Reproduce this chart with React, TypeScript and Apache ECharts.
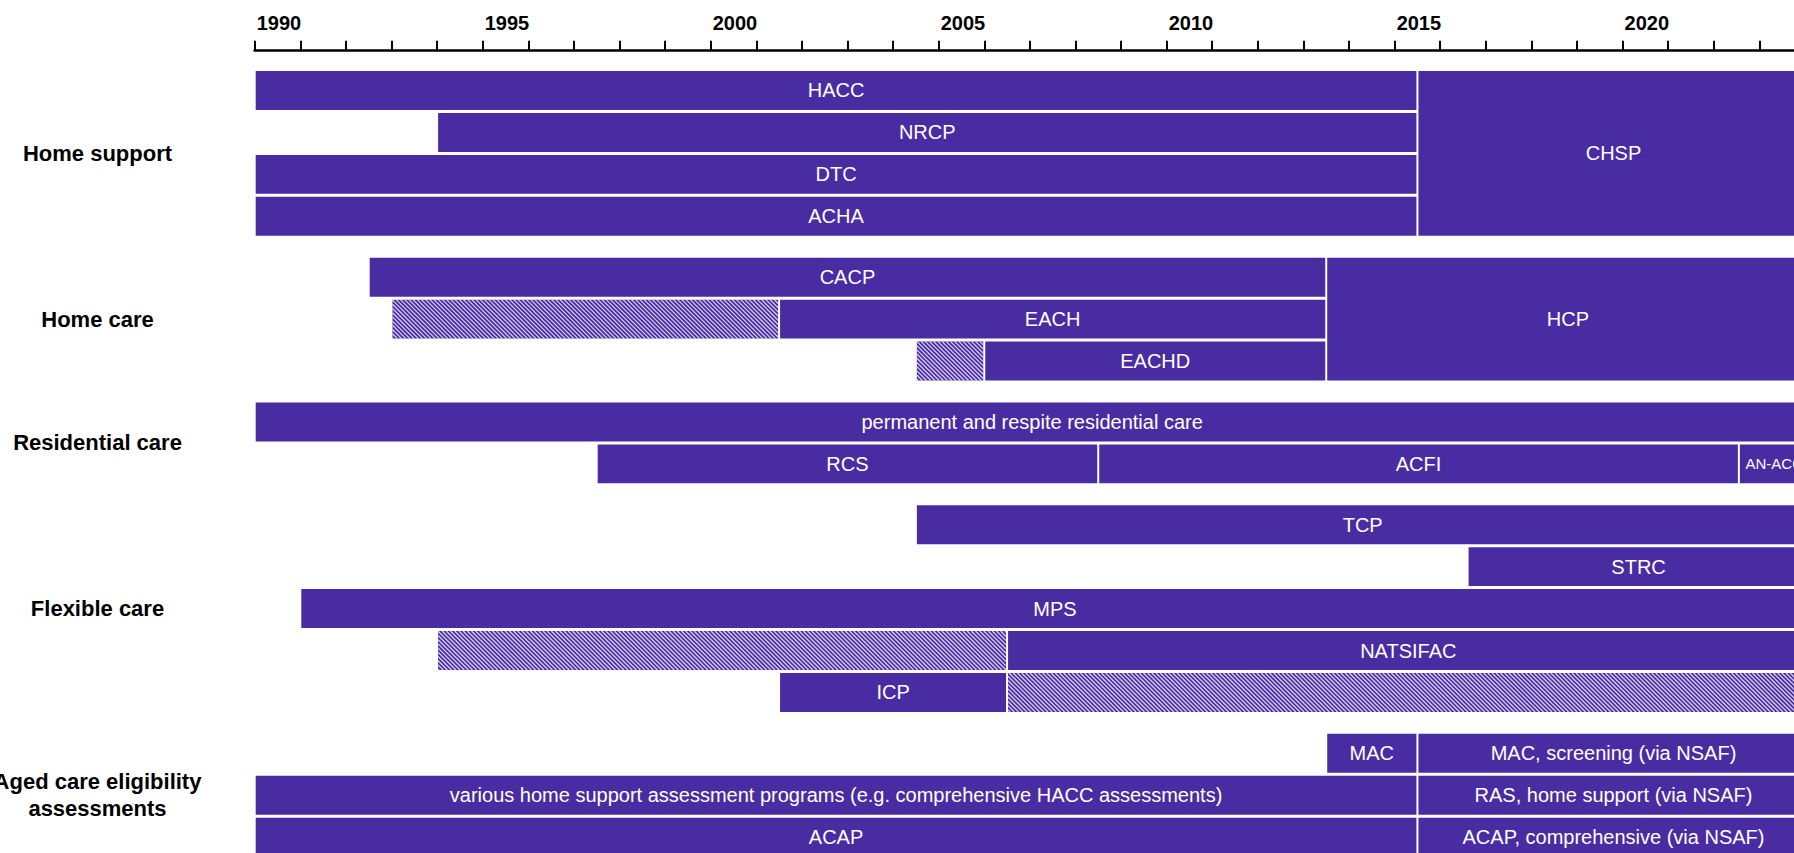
import React, { useEffect, useRef } from "react";
import * as echarts from "echarts";

// ---------- data ----------
const yearMin = 1990;
const yearMax = 2024;
const labelledYears = [1990, 1995, 2000, 2005, 2010, 2015, 2020];

const groupNames = [
  "Home support",
  "Home care",
  "Residential care",
  "Flexible care",
  "Aged care eligibility\nassessments",
];
const groupFirstRow = [0, 4, 7, 9, 14];
const groupRowCount = [4, 3, 2, 5, 3];

const segName = [
  "HACC", "NRCP", "DTC", "ACHA", "CHSP",
  "CACP", "EACH", "EACH", "EACHD", "EACHD", "HCP",
  "permanent and respite residential care", "RCS", "ACFI", "AN-ACC",
  "TCP", "STRC", "MPS", "NATSIFAC", "NATSIFAC", "ICP", "ICP",
  "MAC", "MAC, screening (via NSAF)",
  "various home support assessment programs (e.g. comprehensive HACC assessments)",
  "RAS, home support (via NSAF)",
  "ACAP", "ACAP, comprehensive (via NSAF)",
];
const segGroup = [0, 0, 0, 0, 0, 1, 1, 1, 1, 1, 1, 2, 2, 2, 2, 3, 3, 3, 3, 3, 3, 3, 4, 4, 4, 4, 4, 4];
const segRow = [0, 1, 2, 3, 0, 4, 5, 5, 6, 6, 4, 7, 8, 8, 8, 9, 10, 11, 12, 12, 13, 13, 14, 14, 15, 15, 16, 16];
const segSpan = [1, 1, 1, 1, 4, 1, 1, 1, 1, 1, 3, 1, 1, 1, 1, 1, 1, 1, 1, 1, 1, 1, 1, 1, 1, 1, 1, 1];
const segStart = [
  1990, 1994, 1990, 1990, 2015.5,
  1992.5, 1993, 2001.5, 2004.5, 2006.0, 2013.5,
  1990, 1997.5, 2008.5, 2022.55,
  2004.5, 2016.6, 1991, 1994, 2006.5, 2001.5, 2006.5,
  2013.5, 2015.5, 1990, 2015.5, 1990, 2015.5,
];
const segEnd = [
  2015.5, 2015.5, 2015.5, 2015.5, 2024.1,
  2013.5, 2001.5, 2013.5, 2006.0, 2013.5, 2024.1,
  2024.1, 2008.5, 2022.55, 2024.1,
  2024.1, 2024.1, 2024.1, 2006.5, 2024.1, 2006.5, 2024.1,
  2015.5, 2024.1, 2015.5, 2024.1, 2015.5, 2024.1,
];
const segHatched = [0, 0, 0, 0, 0, 0, 1, 0, 1, 0, 0, 0, 0, 0, 0, 0, 0, 0, 1, 0, 0, 1, 0, 0, 0, 0, 0, 0];

// ---------- styling ----------
const PURPLE = "#4a2ca2";
const HATCH = "rgba(222,216,242,0.95)";
const FONT = "'Liberation Sans', Arial, Helvetica, sans-serif";
const GROUP_GAP = 0.45;

export default function App() {
  const ref = useRef<HTMLDivElement>(null);

  useEffect(() => {
    document.body.style.margin = "0";
    document.body.style.overflow = "hidden";
    document.documentElement.style.overflow = "hidden";
    if (!ref.current) return;
    const chart = echarts.init(ref.current, null, { renderer: "svg" });

    const barData = segName.map((n, i) => [
      segStart[i],
      segEnd[i],
      segRow[i] + segGroup[i] * GROUP_GAP,
      segSpan[i],
      segHatched[i],
      i,
    ]);
    const groupData = groupNames.map((n, i) => [
      yearMin,
      groupFirstRow[i] + i * GROUP_GAP,
      groupRowCount[i],
      i,
    ]);

    const option: any = {
      animation: false,
      grid: { left: 254.7, right: 0, top: 50.7, bottom: 0, containLabel: false },
      xAxis: {
        type: "value",
        position: "top",
        min: yearMin,
        max: yearMax,
        interval: 1,
        splitLine: { show: false },
        axisLine: { show: true, onZero: false, lineStyle: { color: "#000", width: 2.7 } },
        axisTick: { show: true, length: 10, lineStyle: { color: "#000", width: 2 } },
        axisLabel: {
          show: true,
          margin: 18,
          align: "left",
          padding: [0, 0, 0, 2],
          fontFamily: FONT,
          fontWeight: "bold",
          fontSize: 20,
          color: "#000",
          formatter: (v: number) => (labelledYears.indexOf(v) >= 0 ? String(v) : ""),
        },
      },
      yAxis: {
        type: "value",
        min: -0.484,
        max: 18.64,
        inverse: true,
        show: false,
      },
      series: [
        {
          type: "custom",
          clip: true,
          data: barData,
          renderItem: (params: any, api: any) => {
            const start = api.value(0);
            const end = api.value(1);
            const yv = api.value(2);
            const span = api.value(3);
            const hatched = api.value(4);
            const idx = api.value(5);
            const p0 = api.coord([start, yv]);
            const p1 = api.coord([end, yv]);
            const pitch = api.size([0, 1])[1];
            const x = p0[0] + 1;
            const w = p1[0] - p0[0] - 2;
            const y = p0[1];
            const h = span * pitch - 3;
            const children: any[] = [
              { type: "rect", shape: { x, y, width: w, height: h }, style: { fill: PURPLE } },
            ];
            if (hatched) {
              const S = 4.2;
              const kMin = x - (y + h);
              const kMax = x + w - y;
              for (let k = Math.ceil(kMin / S) * S; k <= kMax; k += S) {
                const ya = Math.max(y, x - k);
                const yb = Math.min(y + h, x + w - k);
                if (yb <= ya) continue;
                children.push({
                  type: "line",
                  shape: { x1: k + ya, y1: ya, x2: k + yb, y2: yb },
                  style: { stroke: HATCH, lineWidth: 1.3 },
                  silent: true,
                });
              }
            } else {
              const fs = w < 80 ? 15 : 20;
              children.push({
                type: "text",
                x: (p0[0] + p1[0]) / 2,
                y: y + h / 2,
                style: {
                  text: segName[idx],
                  fill: "#ffffff",
                  fontFamily: FONT,
                  fontSize: fs,
                  align: "center",
                  verticalAlign: "middle",
                },
              });
            }
            return { type: "group", children };
          },
        },
        {
          type: "custom",
          clip: false,
          data: groupData,
          renderItem: (params: any, api: any) => {
            const yv = api.value(1);
            const count = api.value(2);
            const idx = api.value(3);
            const p = api.coord([yearMin, yv]);
            const pitch = api.size([0, 1])[1];
            const cy = p[1] + (count * pitch - 3) / 2;
            return {
              type: "text",
              x: 97.5,
              y: cy,
              style: {
                text: groupNames[idx],
                fill: "#000",
                fontFamily: FONT,
                fontWeight: "bold",
                fontSize: 22,
                lineHeight: 27,
                align: "center",
                verticalAlign: "middle",
              },
            };
          },
        },
      ],
    };

    chart.setOption(option);
    return () => chart.dispose();
  }, []);

  return <div ref={ref} style={{ width: 1808, height: 853 }} />;
}
